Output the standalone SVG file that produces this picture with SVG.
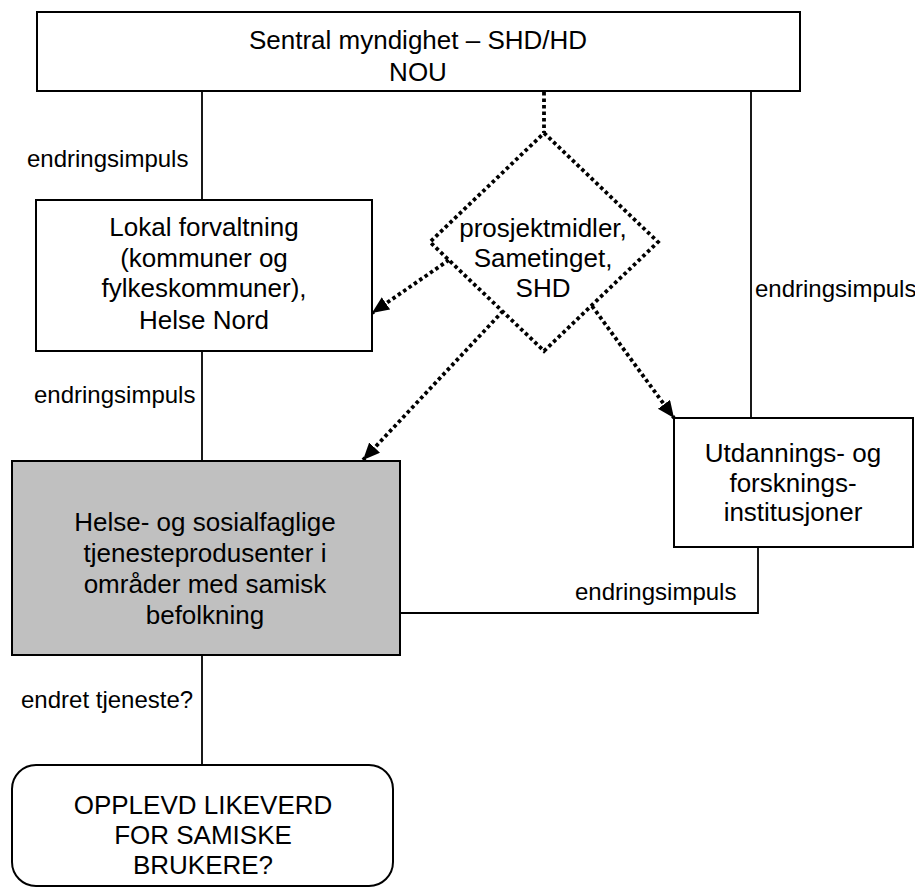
<svg xmlns="http://www.w3.org/2000/svg" width="915" height="888" viewBox="0 0 915 888">
<defs>
<style>
.box{fill:#fff;stroke:#000;stroke-width:2}
.grey{fill:#c0c0c0;stroke:#000;stroke-width:2}
.ln{fill:none;stroke:#000;stroke-width:1.8}
.dot{fill:none;stroke:#000;stroke-width:3.8;stroke-dasharray:3.5 3}
.t{font-family:"Liberation Sans",Arial,sans-serif;font-size:26px;fill:#000;text-anchor:middle}
.lbl{font-family:"Liberation Sans",Arial,sans-serif;font-size:24px;fill:#000}
</style>
<marker id="ah" markerUnits="userSpaceOnUse" markerWidth="18" markerHeight="16" refX="17" refY="7.5" orient="auto">
<path d="M0,0 L17,7.5 L0,15 Z" fill="#000"/>
</marker>
</defs>
<rect width="915" height="888" fill="#fff"/>
<g id="connectors">
<line class="ln" x1="202" y1="91" x2="202" y2="200"/>
<line class="ln" x1="202" y1="351" x2="202" y2="461"/>
<line class="ln" x1="751" y1="91" x2="751" y2="418"/>
<polyline class="ln" points="400,613 758,613 758,547"/>
<line class="ln" x1="202" y1="655" x2="202" y2="765"/>
<line class="dot" x1="544" y1="92" x2="544" y2="133"/>
<line class="dot" x1="449" y1="260" x2="372" y2="313" marker-end="url(#ah)"/>
<line class="dot" x1="503" y1="311" x2="363" y2="460" marker-end="url(#ah)"/>
<line class="dot" x1="592" y1="306" x2="674" y2="418" marker-end="url(#ah)"/>
<text class="lbl" x="27" y="167">endringsimpuls</text>
<text class="lbl" x="34" y="403">endringsimpuls</text>
<text class="lbl" x="755" y="297">endringsimpuls</text>
<text class="lbl" x="575" y="600">endringsimpuls</text>
<text class="lbl" x="21" y="708">endret tjeneste?</text>
</g>
<g id="sentral">
<rect class="box" x="37" y="12" width="763" height="79"/>
<text class="t" x="418" y="49">Sentral myndighet – SHD/HD</text>
<text class="t" x="418" y="81">NOU</text>
</g>
<g id="lokal">
<rect class="box" x="36" y="200" width="336" height="151"/>
<text class="t" x="204" y="236">Lokal forvaltning</text>
<text class="t" x="204" y="267">(kommuner og</text>
<text class="t" x="204" y="297">fylkeskommuner),</text>
<text class="t" x="204" y="329">Helse Nord</text>
</g>
<g id="prosjekt">
<polygon points="544,133 658,242 544,351 430,242" fill="#fff" stroke="#000" stroke-width="3.8" stroke-dasharray="3.5 3"/>
<text class="t" x="543" y="237">prosjektmidler,</text>
<text class="t" x="543" y="267">Sametinget,</text>
<text class="t" x="543" y="297">SHD</text>
</g>
<g id="utdanning">
<rect class="box" x="674" y="418" width="239" height="129"/>
<text class="t" x="793" y="462">Utdannings- og</text>
<text class="t" x="793" y="492">forsknings-</text>
<text class="t" x="793" y="521">institusjoner</text>
</g>
<g id="tjeneste">
<rect class="grey" x="12" y="461" width="388" height="194"/>
<text class="t" x="205" y="531">Helse- og sosialfaglige</text>
<text class="t" x="205" y="562">tjenesteprodusenter i</text>
<text class="t" x="205" y="593">områder med samisk</text>
<text class="t" x="205" y="624">befolkning</text>
</g>
<g id="likeverd">
<rect class="box" x="12" y="765" width="381" height="121" rx="24" ry="24"/>
<text class="t" x="203" y="814">OPPLEVD LIKEVERD</text>
<text class="t" x="203" y="844">FOR SAMISKE</text>
<text class="t" x="203" y="874">BRUKERE?</text>
</g>
</svg>
